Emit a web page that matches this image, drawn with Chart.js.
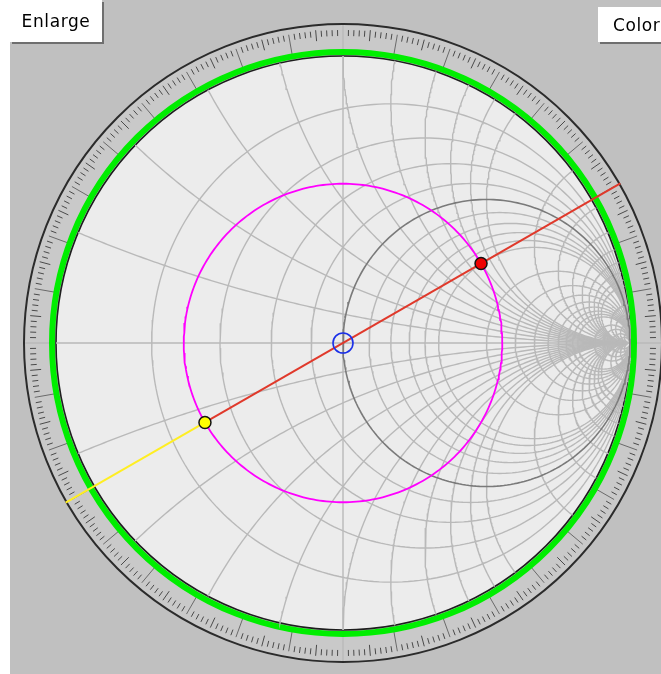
<!DOCTYPE html>
<html><head><meta charset="utf-8">
<script src="https://cdn.jsdelivr.net/npm/chart.js@4.4.0/dist/chart.umd.min.js"></script>
<style>
html,body{margin:0;padding:0;background:#fff;width:661px;height:674px;overflow:hidden;position:relative;}
#wrap{position:absolute;left:10px;top:0;width:651px;height:674px;background:#c0c0c0;}
#c{position:absolute;left:0;top:0;}
.btn{position:absolute;background:#fff;font-family:"DejaVu Sans",sans-serif;font-size:17px;letter-spacing:0.6px;color:#000;box-shadow:2px 2px 0 #6f6f6f;box-sizing:border-box;line-height:42px;}
</style></head><body>
<div id="wrap"><canvas id="c" width="651" height="674"></canvas></div>
<div class="btn" style="left:10px;top:0;width:92px;height:42px;text-align:center;">Enlarge</div>
<div class="btn" style="left:598px;top:7px;width:90px;height:35px;line-height:36px;padding-left:15px;">Color</div>
<script>
// ---- data ----
const resistanceValues = [0.2,0.4,0.6,0.8,1.0,1.2,1.4,1.6,1.8,2.0,3,4,5,6,7,8,9,10,15,20,30,50];
const reactanceValues  = [0.2,0.4,0.6,0.8,1.0,1.2,1.4,1.6,1.8,2.0,3,4,5,6,7,8,9,10,15,20,30,50];
const loadImpedance = [2.0, 1.6];          // normalized r, x
const scaleTickStepsDeg = [1, 5, 10];      // minor, mid, major ticks on rim scale

// ---- layout constants (pixels) ----
const UNIT = 287, CX = 333, CY = 343, W = 651, H = 674;
const RIM = 320 / 287;

function gamma(r, x){ // (z-1)/(z+1)
  const nr = r - 1, ni = x, dr = r + 1, di = x;
  const d = dr*dr + di*di;
  return {x:(nr*dr + ni*di)/d, y:(ni*dr - nr*di)/d};
}
function resistanceCircle(r){
  const c = r/(1+r), R = 1/(1+r), pts = [];
  const N = 260;
  for(let i=0;i<=N;i++){ const a = 2*Math.PI*i/N; pts.push({x:c+R*Math.cos(a), y:R*Math.sin(a)}); }
  return pts;
}
function reactanceArc(x){
  const s = Math.sign(x), ax = Math.abs(x);
  const cy = 1/ax, R = 1/ax;
  const gx = (ax*ax-1)/(ax*ax+1), gy = 2*ax/(ax*ax+1);
  let a1 = Math.atan2(gy - cy, gx - 1);
  if (a1 > -Math.PI/2) a1 -= 2*Math.PI;
  const a0 = -Math.PI/2, N = 160, pts = [];
  for(let i=0;i<=N;i++){ const a = a0 + (a1-a0)*i/N; pts.push({x:1+R*Math.cos(a), y:s*(cy+R*Math.sin(a))}); }
  return pts;
}
const line = (data, color, width, order) => ({type:'scatter', data, showLine:true, borderColor:color, borderWidth:width, pointRadius:0, fill:false, order, tension:0});

const datasets = [];
const GRID = '#b9b9b9';
datasets.push(line([{x:-1,y:0},{x:1,y:0}], GRID, 1.4, 20));
datasets.push(line([{x:0,y:-1},{x:0,y:1}], GRID, 1.4, 20));
resistanceValues.forEach(r => { if (r !== 1) datasets.push(line(resistanceCircle(r), GRID, 1.4, 20)); });
reactanceValues.forEach(x => { datasets.push(line(reactanceArc(x), GRID, 1.4, 20)); datasets.push(line(reactanceArc(-x), GRID, 1.4, 20)); });
datasets.push(line(resistanceCircle(1), '#7a7a7a', 1.6, 15));

const gL = gamma(loadImpedance[0], loadImpedance[1]);
const mag = Math.hypot(gL.x, gL.y);
const ux = gL.x/mag, uy = gL.y/mag;
const vswr = [];
for(let i=0;i<=300;i++){ const a=2*Math.PI*i/300; vswr.push({x:mag*Math.cos(a), y:mag*Math.sin(a)}); }
datasets.push(line(vswr, '#ff00ff', 1.8, 10));
datasets.push(line([{x:-gL.x,y:-gL.y},{x:-ux*RIM,y:-uy*RIM}], '#ffee22', 2, 8));
datasets.push(line([{x:-gL.x,y:-gL.y},{x:ux*RIM,y:uy*RIM}], '#e0392b', 2, 7));
datasets.push({type:'scatter', data:[{x:0,y:0}], pointRadius:10, pointBackgroundColor:'rgba(0,0,0,0)', pointBorderColor:'#1a2fe8', pointBorderWidth:1.6, order:3});
datasets.push({type:'scatter', data:[{x:-gL.x,y:-gL.y}], pointRadius:6, pointBackgroundColor:'#ffff00', pointBorderColor:'#111', pointBorderWidth:1.5, order:2});
datasets.push({type:'scatter', data:[{x:gL.x,y:gL.y}], pointRadius:6, pointBackgroundColor:'#ee0000', pointBorderColor:'#111', pointBorderWidth:1.5, order:1});

const decor = {
  id:'decor',
  beforeDatasetsDraw(chart){
    const ctx = chart.ctx, xs = chart.scales.x, ys = chart.scales.y;
    const cx = xs.getPixelForValue(0), cy = ys.getPixelForValue(0);
    const u = xs.getPixelForValue(1) - cx;
    ctx.save();
    // rim ring
    ctx.beginPath(); ctx.arc(cx, cy, RIM*u, 0, 2*Math.PI); ctx.fillStyle = '#c9c9c9'; ctx.fill();
    // ticks
    for(let d=0; d<360; d+=scaleTickStepsDeg[0]){
      const a = d*Math.PI/180;
      let r0, r1, col = '#4a4a4a', lw = 1;
      if (d % 90 === 0){ r0 = 1.0; r1 = RIM; col = GRID; lw = 1.4; }
      else if (d % scaleTickStepsDeg[2] === 0){ r0 = 293/287; r1 = 313/287; col = '#6a6a6a'; }
      else if (d % scaleTickStepsDeg[1] === 0){ r0 = 303/287; r1 = 314/287; }
      else { r0 = 307/287; r1 = 313/287; }
      ctx.beginPath();
      ctx.moveTo(cx + r0*u*Math.cos(a), cy - r0*u*Math.sin(a));
      ctx.lineTo(cx + r1*u*Math.cos(a), cy - r1*u*Math.sin(a));
      ctx.strokeStyle = col; ctx.lineWidth = lw; ctx.stroke();
    }
    // outer rim line
    ctx.beginPath(); ctx.arc(cx, cy, RIM*u - 1, 0, 2*Math.PI); ctx.strokeStyle = '#2b2b2b'; ctx.lineWidth = 2; ctx.stroke();
    // green ring
    ctx.beginPath(); ctx.arc(cx, cy, 291/287*u, 0, 2*Math.PI); ctx.strokeStyle = '#00ee00'; ctx.lineWidth = 6; ctx.stroke();
    // interior
    ctx.beginPath(); ctx.arc(cx, cy, u, 0, 2*Math.PI); ctx.fillStyle = '#ececec'; ctx.fill();
    ctx.strokeStyle = '#1e1e1e'; ctx.lineWidth = 1.6; ctx.stroke();
    ctx.restore();
  }
};

new Chart(document.getElementById('c'), {
  type:'scatter',
  data:{datasets},
  options:{
    responsive:false, animation:false, devicePixelRatio:1, events:[],
    layout:{padding:0, autoPadding:false},
    plugins:{legend:{display:false}, tooltip:{enabled:false}},
    scales:{
      x:{type:'linear', display:false, min:-CX/UNIT, max:(W-CX)/UNIT},
      y:{type:'linear', display:false, min:-(H-CY)/UNIT, max:CY/UNIT}
    }
  },
  plugins:[decor]
});
</script>
</body></html>
